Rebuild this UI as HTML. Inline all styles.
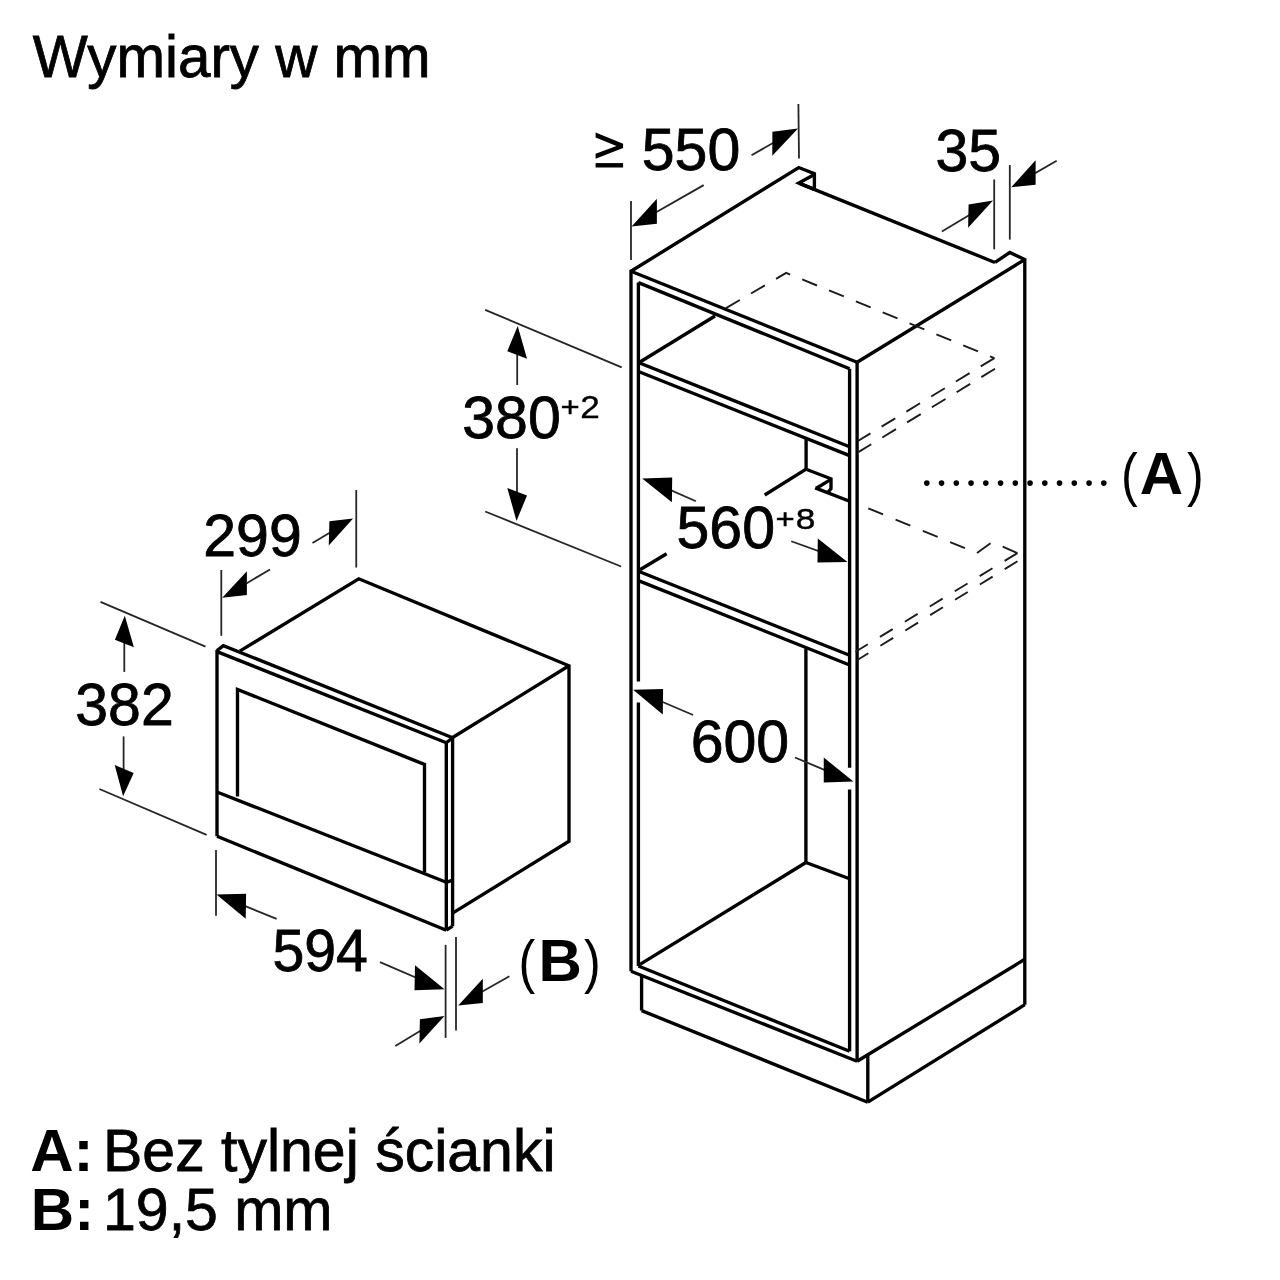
<!DOCTYPE html><html><head><meta charset="utf-8"><style>html,body{margin:0;padding:0;background:#fff;width:1280px;height:1280px;overflow:hidden}svg{display:block;will-change:transform}text{font-family:"Liberation Sans",sans-serif;fill:#000;stroke:#000;stroke-width:0.8px}text.ns{stroke:none}</style></head><body>
<svg width="1280" height="1280" viewBox="0 0 1280 1280">
<rect width="1280" height="1280" fill="#fff"/>
<g stroke="#000" fill="none" stroke-linecap="butt" stroke-linejoin="miter">
<line x1="798.75" y1="183.1" x2="995" y2="262.5" stroke-width="3.35"/>
<line x1="1024.8" y1="259.5" x2="857.1" y2="362.2" stroke-width="3.35"/>
<line x1="631.0" y1="271.25" x2="857.1" y2="362.2" stroke-width="3.35"/>
<line x1="638.4" y1="282.6" x2="849.6" y2="368.8" stroke-width="3.35"/>
<line x1="631.0" y1="269.8" x2="631.0" y2="971.25" stroke-width="3.35"/>
<line x1="638.4" y1="282.6" x2="638.4" y2="681.6" stroke-width="3.35"/>
<line x1="638.4" y1="702.5" x2="638.4" y2="966" stroke-width="3.35"/>
<line x1="857.1" y1="362.2" x2="857.1" y2="1061.25" stroke-width="3.35"/>
<line x1="849.6" y1="368.8" x2="849.6" y2="767.8" stroke-width="3.35"/>
<line x1="849.6" y1="789.4" x2="849.6" y2="1051.25" stroke-width="3.35"/>
<line x1="631.0" y1="971.25" x2="857.1" y2="1061.25" stroke-width="3.35"/>
<line x1="638.4" y1="966" x2="849.6" y2="1051.25" stroke-width="3.35"/>
<line x1="638.4" y1="362.5" x2="849.6" y2="446.7" stroke-width="3.35"/>
<line x1="638.4" y1="371.5" x2="849.6" y2="455.6" stroke-width="3.35"/>
<line x1="640" y1="362" x2="715" y2="316" stroke-width="3.35"/>
<line x1="806.1" y1="439" x2="806.1" y2="469.2" stroke-width="3.35"/>
<line x1="806.1" y1="469.2" x2="764.7" y2="495" stroke-width="3.35"/>
<line x1="830.5" y1="479.6" x2="816.4" y2="488.2" stroke-width="3.35"/>
<line x1="815.2" y1="487.9" x2="849.6" y2="501.3" stroke-width="3.35"/>
<line x1="638.4" y1="571.25" x2="849.6" y2="655.3" stroke-width="3.35"/>
<line x1="638.4" y1="580.6" x2="849.6" y2="665" stroke-width="3.35"/>
<line x1="640" y1="569.7" x2="666.6" y2="553.75" stroke-width="3.35"/>
<line x1="805.9" y1="648.5" x2="805.9" y2="862.5" stroke-width="3.35"/>
<line x1="640" y1="964.4" x2="805.9" y2="862.5" stroke-width="3.35"/>
<line x1="805.9" y1="862.5" x2="849.6" y2="878.75" stroke-width="3.35"/>
<line x1="857.1" y1="1061.25" x2="1024.8" y2="959.3" stroke-width="3.35"/>
<line x1="641.6" y1="975" x2="641.6" y2="1010.6" stroke-width="3.35"/>
<line x1="641.6" y1="1010.6" x2="867.8" y2="1102.2" stroke-width="3.35"/>
<line x1="867.8" y1="1055" x2="867.8" y2="1102.2" stroke-width="3.35"/>
<line x1="867.8" y1="1102.2" x2="1024.8" y2="1004.7" stroke-width="3.35"/>
<line x1="994.4" y1="358.1" x2="857.5" y2="441.25" stroke-width="1.9" stroke-dasharray="16 13" stroke="#1c1c1c"/>
<line x1="995" y1="368.75" x2="858.75" y2="451.9" stroke-width="1.9" stroke-dasharray="16 13" stroke="#1c1c1c"/>
<line x1="868.3" y1="508.3" x2="977" y2="553.1" stroke-width="1.9" stroke-dasharray="16 13.5" stroke="#1c1c1c"/>
<line x1="977" y1="553.1" x2="990.5" y2="543.2" stroke-width="1.9" stroke-dasharray="100 0" stroke="#1c1c1c"/>
<line x1="1002.7" y1="546.7" x2="1017.4" y2="553.1" stroke-width="1.9" stroke-dasharray="100 0" stroke="#1c1c1c"/>
<line x1="1017.4" y1="553.1" x2="855.6" y2="651.7" stroke-width="1.9" stroke-dasharray="15 14.2" stroke="#1c1c1c"/>
<line x1="1017.5" y1="561.3" x2="857" y2="660.2" stroke-width="1.9" stroke-dasharray="15 14.2" stroke="#1c1c1c"/>
<line x1="217" y1="649.9" x2="217" y2="836.25" stroke-width="3.35"/>
<line x1="217.6" y1="651.9" x2="446.3" y2="742.7" stroke-width="3.35"/>
<line x1="446.3" y1="742.7" x2="452.6" y2="737.7" stroke-width="3.35"/>
<line x1="446.3" y1="742.7" x2="446.3" y2="930.2" stroke-width="3.35"/>
<line x1="452.6" y1="737.7" x2="452.6" y2="926.2" stroke-width="3.35"/>
<line x1="217" y1="836.25" x2="446.3" y2="930.2" stroke-width="3.35"/>
<line x1="217" y1="792" x2="446.3" y2="882.3" stroke-width="3.35"/>
<line x1="446.3" y1="882.3" x2="452.6" y2="880.2" stroke-width="3.35"/>
<line x1="569" y1="665.8" x2="452.6" y2="737.5" stroke-width="3.35"/>
<line x1="631" y1="201" x2="631" y2="260" stroke-width="1.8" stroke="#262626"/>
<line x1="798.4" y1="104" x2="799" y2="158.5" stroke-width="1.8" stroke="#262626"/>
<line x1="994.2" y1="179.5" x2="994.2" y2="249.3" stroke-width="1.8" stroke="#262626"/>
<line x1="1009.8" y1="165" x2="1009.8" y2="239.6" stroke-width="1.8" stroke="#262626"/>
<line x1="485.2" y1="309.9" x2="621.7" y2="367.3" stroke-width="1.8" stroke="#262626"/>
<line x1="485.2" y1="511.5" x2="621.1" y2="566.5" stroke-width="1.8" stroke="#262626"/>
<line x1="221.3" y1="570" x2="221.3" y2="635.8" stroke-width="1.8" stroke="#262626"/>
<line x1="356.25" y1="490" x2="356.25" y2="567.5" stroke-width="1.8" stroke="#262626"/>
<line x1="100.5" y1="601.9" x2="205.5" y2="646.7" stroke-width="1.8" stroke="#262626"/>
<line x1="99.4" y1="789" x2="206.6" y2="834.9" stroke-width="1.8" stroke="#262626"/>
<line x1="216" y1="850" x2="216" y2="915.7" stroke-width="1.8" stroke="#262626"/>
<line x1="445.6" y1="944.9" x2="445.6" y2="1037.9" stroke-width="1.8" stroke="#262626"/>
<line x1="456" y1="937" x2="456" y2="1030.6" stroke-width="1.8" stroke="#262626"/>
<line x1="703.7" y1="185.1" x2="644.25" y2="218.95" stroke-width="1.8" stroke="#262626"/>
<line x1="751.5" y1="155.2" x2="785.175" y2="136.075" stroke-width="1.8" stroke="#262626"/>
<line x1="941.9" y1="231.6" x2="980.675" y2="208.35000000000002" stroke-width="1.8" stroke="#262626"/>
<line x1="1056.7" y1="160.8" x2="1023.425" y2="179.9" stroke-width="1.8" stroke="#262626"/>
<line x1="695.9" y1="501.25" x2="657.125" y2="484.125" stroke-width="1.8" stroke="#262626"/>
<line x1="791.25" y1="541.25" x2="832.575" y2="556.175" stroke-width="1.8" stroke="#262626"/>
<line x1="693.1" y1="715" x2="648.0250000000001" y2="695.725" stroke-width="1.8" stroke="#262626"/>
<line x1="795" y1="757.5" x2="838.575" y2="775.8" stroke-width="1.8" stroke="#262626"/>
<line x1="270" y1="569.4" x2="234.55" y2="590.4625" stroke-width="1.8" stroke="#262626"/>
<line x1="312.5" y1="543.1" x2="341.0875" y2="525.9625" stroke-width="1.8" stroke="#262626"/>
<line x1="276.6" y1="918.8" x2="231.2" y2="900.45" stroke-width="1.8" stroke="#262626"/>
<line x1="380" y1="962.2" x2="429.625" y2="983.475" stroke-width="1.8" stroke="#262626"/>
<line x1="509.4" y1="976.25" x2="470.5" y2="998.2249999999999" stroke-width="1.8" stroke="#262626"/>
<line x1="395.3" y1="1046.1" x2="432.075" y2="1023.675" stroke-width="1.8" stroke="#262626"/>
<line x1="517.2" y1="385" x2="517.2" y2="352" stroke-width="1.8" stroke="#262626"/>
<line x1="517" y1="448.2" x2="517" y2="493" stroke-width="1.8" stroke="#262626"/>
<line x1="124.3" y1="671.9" x2="124.3" y2="643" stroke-width="1.8" stroke="#262626"/>
<line x1="123.6" y1="736.4" x2="123.6" y2="770" stroke-width="1.8" stroke="#262626"/>
<polyline points="631.0,271.25 798.75,167.5 814.4,173.75 814.4,189.4" stroke-width="3.35"/>
<polyline points="814.4,174.5 798.75,183.1 814.4,189.4" stroke-width="3.35"/>
<polyline points="995,262.3 1009.8,252.5 1024.8,259.5 1024.8,1004.7" stroke-width="3.35"/>
<polyline points="806.1,469.2 831,478.8 831,488.6 828,492.2" stroke-width="3.35"/>
<polyline points="726,308.1 786.2,272.9 994.4,358.1" stroke-width="1.9" stroke-dasharray="16 13" stroke="#1c1c1c"/>
<polyline points="217,650.5 223.4,645.6 452.6,737.7" stroke-width="3.35"/>
<polyline points="446.3,930.2 452.6,926.2" stroke-width="3.35"/>
<polyline points="237.5,796.6 237.5,689.4 424.5,764.5 424.5,872.5" stroke-width="3.35"/>
<polyline points="239.8,651.1 358.75,578.75 569,665.8 569,841.25 452.6,913.1" stroke-width="3.35"/>
</g><g fill="#000">
<polygon points="631.6,226.6 656.9,198.8 656.9,223.8"/>
<polygon points="798,128.4 772.4,131.7 772.3,155.8"/>
<polygon points="993,200.6 968.6,204.4 968.1,227.8"/>
<polygon points="1011.25,187.3 1035.6,160.3 1035.6,184.7"/>
<polygon points="642.2,478.4 672.2,477.5 671.9,502.2"/>
<polygon points="847.5,561.9 817.8,538.4 817.5,562.5"/>
<polygon points="633.1,689.7 663.1,689.1 662.8,714.4"/>
<polygon points="853.4,781.6 823.75,757.5 823.75,782.5"/>
<polygon points="222.2,597.8 246.9,571.25 246.9,595"/>
<polygon points="353.1,518.5 329.4,521.25 328.75,545.6"/>
<polygon points="216.5,894.6 246.1,893.8 245.7,918.8"/>
<polygon points="444.5,989.2 415,965.2 414.5,990.3"/>
<polygon points="458.2,1005.6 482.8,978.8 482.8,1002.9"/>
<polygon points="444.5,1016 419.9,1019.3 419.4,1043.4"/>
<polygon points="517.7,325.9 507.3,351.25 527,358.75"/>
<polygon points="516.5,520.9 507.3,488 527,495.5"/>
<polygon points="124.8,615.7 114.9,639.8 133.9,647.3"/>
<polygon points="123.1,796.2 114.7,765 133.7,773"/>
<circle cx="926.80" cy="483.1" r="2.8"/>
<circle cx="941.55" cy="483.1" r="2.8"/>
<circle cx="956.30" cy="483.1" r="2.8"/>
<circle cx="971.05" cy="483.1" r="2.8"/>
<circle cx="985.80" cy="483.1" r="2.8"/>
<circle cx="1000.55" cy="483.1" r="2.8"/>
<circle cx="1015.30" cy="483.1" r="2.8"/>
<circle cx="1030.05" cy="483.1" r="2.8"/>
<circle cx="1044.80" cy="483.1" r="2.8"/>
<circle cx="1059.55" cy="483.1" r="2.8"/>
<circle cx="1074.30" cy="483.1" r="2.8"/>
<circle cx="1089.05" cy="483.1" r="2.8"/>
<circle cx="1103.80" cy="483.1" r="2.8"/>
<text x="32.8" y="76.9" font-size="58.3" font-weight="normal">Wymiary w mm</text>
<text x="641.8" y="170.4" font-size="59" font-weight="normal">550</text>
<text x="935.5" y="170.6" font-size="59" font-weight="normal">35</text>
<text x="462.3" y="438.2" font-size="59" font-weight="normal">380</text>
<text x="676.5" y="548.2" font-size="59" font-weight="normal">560</text>
<text x="690.7" y="762" font-size="59" font-weight="normal">600</text>
<text x="203.3" y="556.25" font-size="59" font-weight="normal">299</text>
<text x="75.3" y="725" font-size="59" font-weight="normal">382</text>
<text x="103" y="1170.9" font-size="59" font-weight="normal">Bez tylnej ścianki</text>
<text x="103" y="1230.3" font-size="59" font-weight="normal">19,5 mm</text>
<polygon points="595.6,132.5 623.1,143.75 623.1,148.1 595.6,158.75 595.6,153.75 616.5,145.9 595.6,137.5"/><rect x="595.6" y="163.1" width="27.5" height="4.4"/>
<text transform="translate(560.4,416.3) scale(1.2,1)" font-size="27.4" style="stroke-width:0.4px">+</text>
<text transform="translate(580.3,417.6) scale(1.13,1)" font-size="31.1" style="stroke-width:0.4px">2</text>
<text transform="translate(775.5,528.3) scale(1.2,1)" font-size="27.4" style="stroke-width:0.4px">+</text>
<text transform="translate(795.7,529.1) scale(1.19,1)" font-size="29.6" style="stroke-width:0.4px">8</text>
<text transform="translate(272.4,970.7) scale(0.97,1)" font-size="59">594</text>
<text transform="translate(1121.1,494.8) scale(0.85,1)" font-size="59" class="ns">(</text>
<text transform="translate(1186.9,494.8) scale(0.85,1)" font-size="59" class="ns">)</text>
<text x="1139.8" y="493.6" font-size="60" font-weight="bold" class="ns">A</text>
<text transform="translate(518.6,981.8) scale(0.85,1)" font-size="59" class="ns">(</text>
<text transform="translate(583.9,981.8) scale(0.85,1)" font-size="59" class="ns">)</text>
<text x="538.4" y="981.4" font-size="60" font-weight="bold" class="ns">B</text>
<text x="30.2" y="1170.7" font-size="60" font-weight="bold" class="ns">A:</text>
<text x="30.8" y="1230.1" font-size="60" font-weight="bold" class="ns">B:</text>
</g></svg></body></html>
